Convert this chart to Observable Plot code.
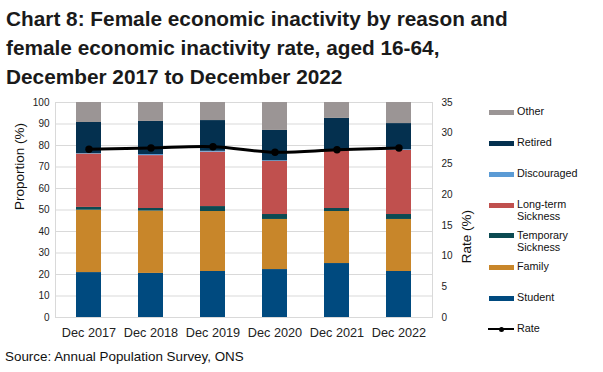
<!DOCTYPE html>
<html>
<head>
<meta charset="utf-8">
<script src="https://cdn.jsdelivr.net/npm/d3@7"></script>
<script src="https://cdn.jsdelivr.net/npm/@observablehq/plot@0.6"></script>
<style>
  body { margin: 0; background: #fff; font-family: "Liberation Sans", Arial, sans-serif; }
  #wrap { position: relative; width: 603px; height: 372px; overflow: hidden; background: #fff; }
  #title { position: absolute; left: 6px; top: 4px; font-weight: bold; font-size: 20.8px; line-height: 29px; color: #1a1a1a; white-space: nowrap; }
  #chart { position: absolute; left: 0; top: 90px; }
  .sw { position: absolute; left: 489px; width: 25px; height: 5px; }
  .lab { position: absolute; left: 517px; font-size: 10.8px; line-height: 11.7px; color: #111; white-space: nowrap; }
  #source { position: absolute; left: 5px; top: 349px; font-size: 13.4px; line-height: 15px; color: #111; white-space: nowrap; }
</style>
</head>
<body>
<div id="wrap">
  <div id="title">Chart 8: Female economic inactivity by reason and<br>female economic inactivity rate, aged 16-64,<br>December 2017 to December 2022</div>
  <div id="chart"></div>
  <div id="legend"></div>
  <div id="source">Source: Annual Population Survey, ONS</div>
</div>
<script>
const years = ["Dec 2017", "Dec 2018", "Dec 2019", "Dec 2020", "Dec 2021", "Dec 2022"];
const student = [20.9, 20.5, 21.4, 22.3, 25.1, 21.4];
const family = [29.0, 29.0, 27.9, 23.3, 24.2, 24.2];
const temporarySickness = [1.3, 1.2, 2.3, 2.3, 1.4, 2.3];
const longTermSickness = [24.8, 24.6, 25.3, 24.7, 27.0, 29.8];
const discouraged = [0.2, 0.5, 0.4, 0.3, 0.3, 0.3];
const retired = [14.5, 15.4, 14.3, 14.1, 14.6, 12.2];
const other = [9.3, 8.8, 8.4, 13.0, 7.4, 9.8];
const rate = [27.4, 27.6, 27.8, 26.9, 27.3, 27.6];
const leftTicks = [0, 10, 20, 30, 40, 50, 60, 70, 80, 90, 100];
const rightTicks = [0, 5, 10, 15, 20, 25, 30, 35];
const rateMax = 35;

const seriesNames = ["Student", "Family", "Temporary Sickness", "Long-term Sickness", "Discouraged", "Retired", "Other"];
const seriesValues = [student, family, temporarySickness, longTermSickness, discouraged, retired, other];
const seriesColors = ["#004a7f", "#c8862a", "#0b4a52", "#c0504e", "#5b9bd5", "#04304f", "#9b9595"];

const stacked = [];
seriesNames.forEach((name, i) => {
  years.forEach((year, j) => stacked.push({ year, series: name, value: seriesValues[i][j] }));
});
const rateData = years.map((year, j) => ({ year, rate: rate[j], y: rate[j] * 100 / rateMax }));

const chart = Plot.plot({
  width: 603,
  height: 250,
  marginTop: 12,
  marginBottom: 23,
  marginLeft: 55,
  marginRight: 171,
  style: { fontFamily: "'Liberation Sans', Arial, sans-serif", color: "#222", background: "transparent" },
  x: { domain: years, paddingInner: 0.6, paddingOuter: 0.3, axis: null },
  y: { domain: [0, 100], axis: null },
  color: { domain: seriesNames, range: seriesColors },
  marks: [
    Plot.gridY(leftTicks, { stroke: "#d9d9d9", strokeOpacity: 1 }),
    Plot.frame({ stroke: "#d9d9d9" }),
    Plot.barY(stacked, { x: "year", y: "value", fill: "series", order: seriesNames }),
    Plot.line(rateData, { x: "year", y: "y", stroke: "#000", strokeWidth: 3, curve: "catmull-rom" }),
    Plot.dot(rateData, { x: "year", y: "y", r: 3.7, fill: "#000" }),
    Plot.axisY(leftTicks, { anchor: "left", tickSize: 0, tickPadding: 6, label: null, fontSize: 10 }),
    Plot.axisY(rightTicks.map(v => v * 100 / rateMax), { anchor: "right", tickSize: 0, tickPadding: 9, label: null, fontSize: 10, tickFormat: d => String(Math.round(d * rateMax / 100)) }),
    Plot.axisX({ tickSize: 0, tickPadding: 10, label: null, fontSize: 12.7 }),
    Plot.text(["Proportion (%)"], { frameAnchor: "left", dx: -36, rotate: -90, fontSize: 13.5, fill: "#111" }),
    Plot.text(["Rate (%)"], { frameAnchor: "right", dx: 34, rotate: -90, fontSize: 13.5, fill: "#111" })
  ]
});
document.getElementById("chart").appendChild(chart);

// Legend (HTML), top-to-bottom order
const legendItems = [
  { name: "Other", lines: ["Other"], cy: 112.3 },
  { name: "Retired", lines: ["Retired"], cy: 143.3 },
  { name: "Discouraged", lines: ["Discouraged"], cy: 174.3 },
  { name: "Long-term Sickness", lines: ["Long-term", "Sickness"], cy: 205.3 },
  { name: "Temporary Sickness", lines: ["Temporary", "Sickness"], cy: 235.7 },
  { name: "Family", lines: ["Family"], cy: 267 },
  { name: "Student", lines: ["Student"], cy: 298.3 }
];
const legend = document.getElementById("legend");
legendItems.forEach(item => {
  const sw = document.createElement("div");
  sw.className = "sw";
  sw.style.top = (item.cy - 2.5) + "px";
  sw.style.background = seriesColors[seriesNames.indexOf(item.name)];
  legend.appendChild(sw);
  const lab = document.createElement("div");
  lab.className = "lab";
  lab.style.top = (item.cy - 5.85) + "px";
  lab.innerHTML = item.lines.join("<br>");
  legend.appendChild(lab);
});
// Rate legend entry
const rl = document.createElement("div");
rl.className = "sw";
rl.style.top = (329 - 1.4) + "px";
rl.style.height = "2.8px";
rl.style.left = "488px";
rl.style.width = "26px";
rl.style.background = "#000";
legend.appendChild(rl);
const rd = document.createElement("div");
rd.style.cssText = "position:absolute;left:498.5px;top:326.5px;width:5px;height:5px;border-radius:50%;background:#000;";
legend.appendChild(rd);
const rlab = document.createElement("div");
rlab.className = "lab";
rlab.style.top = (329 - 5.85) + "px";
rlab.textContent = "Rate";
legend.appendChild(rlab);
</script>
</body>
</html>
